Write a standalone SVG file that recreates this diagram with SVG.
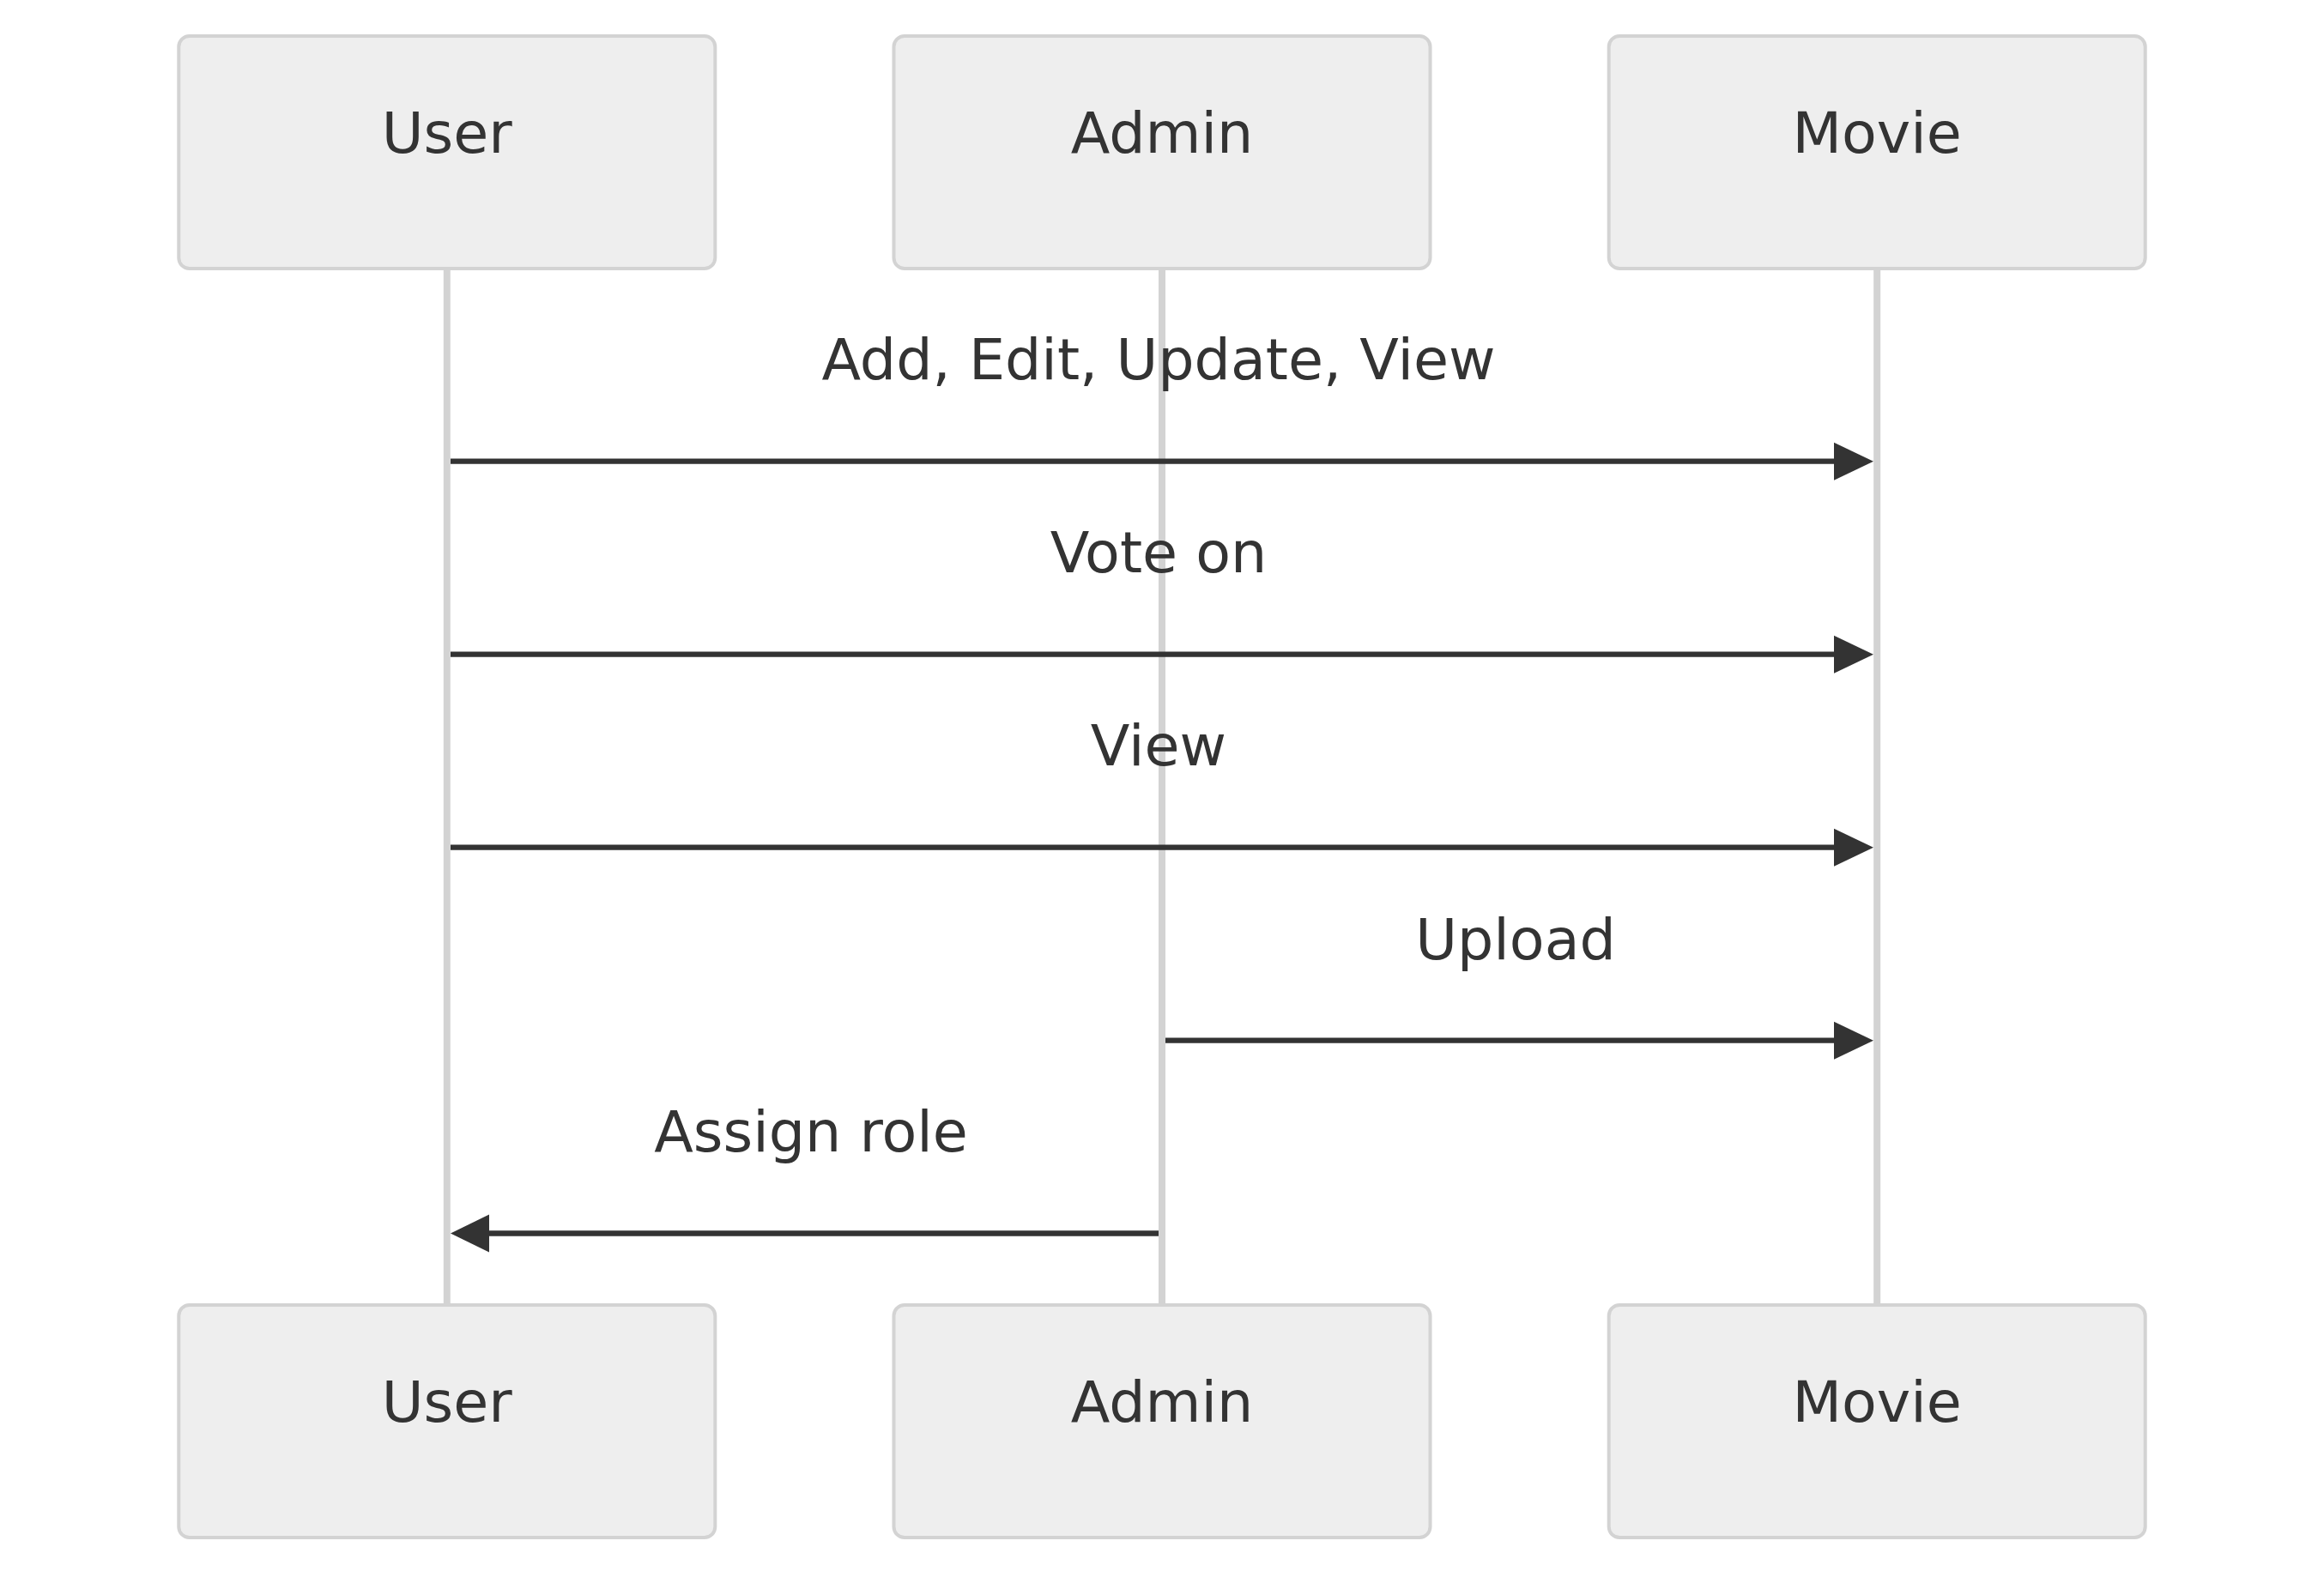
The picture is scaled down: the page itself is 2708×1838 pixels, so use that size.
<svg xmlns="http://www.w3.org/2000/svg" width="2708" height="1838" viewBox="0 0 2708 1838">
<style>
.actor{fill:#eeeeee;stroke:#d3d3d3;stroke-width:4}
.life{stroke:#d3d3d3;stroke-width:8}
.lbl{font-family:"DejaVu Sans",Verdana,sans-serif;font-size:66.7px;fill:#333333;text-anchor:middle}
.msg{stroke:#333333;stroke-width:6.3;fill:none}
.head{fill:#333333}
</style>
<rect width="2708" height="1838" fill="#ffffff"/>
<g id="lifelines">
<line class="life" x1="520.8" y1="313" x2="520.8" y2="1521"/>
<line class="life" x1="1354" y1="313" x2="1354" y2="1521"/>
<line class="life" x1="2187.2" y1="313" x2="2187.2" y2="1521"/>
</g>
<g id="actor-user-top"><rect class="actor" x="208.3" y="42" width="625" height="271" rx="12.5"/><text class="lbl" x="520.8" y="178.3">User</text></g>
<g id="actor-admin-top"><rect class="actor" x="1041.5" y="42" width="625" height="271" rx="12.5"/><text class="lbl" x="1354" y="178.3">Admin</text></g>
<g id="actor-movie-top"><rect class="actor" x="1874.7" y="42" width="625" height="271" rx="12.5"/><text class="lbl" x="2187.2" y="178.3">Movie</text></g>
<g id="actor-user-bottom"><rect class="actor" x="208.3" y="1521" width="625" height="271" rx="12.5"/><text class="lbl" x="520.8" y="1656.7">User</text></g>
<g id="actor-admin-bottom"><rect class="actor" x="1041.5" y="1521" width="625" height="271" rx="12.5"/><text class="lbl" x="1354" y="1656.7">Admin</text></g>
<g id="actor-movie-bottom"><rect class="actor" x="1874.7" y="1521" width="625" height="271" rx="12.5"/><text class="lbl" x="2187.2" y="1656.7">Movie</text></g>
<g id="connectors">
<text class="lbl" x="1350" y="442.3">Add, Edit, Update, View</text>
<line class="msg" x1="525" y1="537.7" x2="2145" y2="537.7"/>
<polygon class="head" points="2137,515.7 2183,537.7 2137,559.7"/>
<text class="lbl" x="1350" y="667.3">Vote on</text>
<line class="msg" x1="525" y1="762.7" x2="2145" y2="762.7"/>
<polygon class="head" points="2137,740.7 2183,762.7 2137,784.7"/>
<text class="lbl" x="1350" y="892.3">View</text>
<line class="msg" x1="525" y1="987.7" x2="2145" y2="987.7"/>
<polygon class="head" points="2137,965.7 2183,987.7 2137,1009.7"/>
<text class="lbl" x="1766" y="1117.7">Upload</text>
<line class="msg" x1="1358" y1="1212.7" x2="2145" y2="1212.7"/>
<polygon class="head" points="2137,1190.7 2183,1212.7 2137,1234.7"/>
<text class="lbl" x="945" y="1341.7">Assign role</text>
<line class="msg" x1="1350" y1="1437.5" x2="563" y2="1437.5"/>
<polygon class="head" points="570,1415.5 525,1437.5 570,1459.5"/>
</g>
</svg>
